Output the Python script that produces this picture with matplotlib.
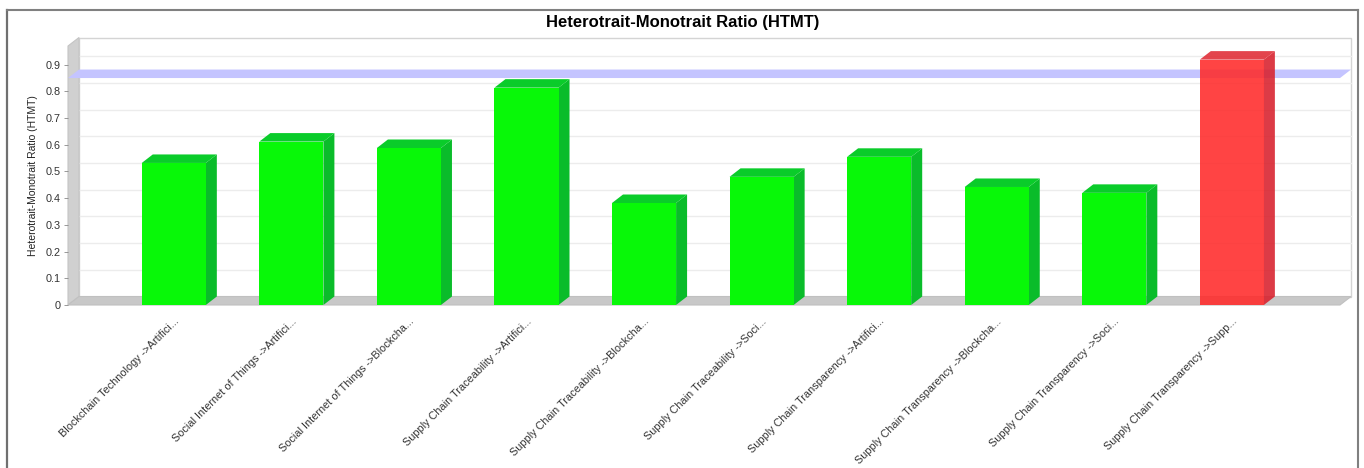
import numpy as np
import matplotlib.pyplot as plt
from matplotlib.patches import Polygon, Rectangle
from matplotlib.lines import Line2D

plt.rcParams['font.family'] = ['Liberation Sans', 'DejaVu Sans']

# Données HTMT
relations = [
    "Blockchain Technology ->Artifici...",
    "Social Internet of Things ->Artifici...",
    "Social Internet of Things ->Blockcha...",
    "Supply Chain Traceability ->Artifici...",
    "Supply Chain Traceability ->Blockcha...",
    "Supply Chain Traceability ->Soci...",
    "Supply Chain Transparency ->Artifici...",
    "Supply Chain Transparency ->Blockcha...",
    "Supply Chain Transparency ->Soci...",
    "Supply Chain Transparency ->Supp...",
]
htmt = [0.532, 0.612, 0.588, 0.814, 0.382, 0.480, 0.555, 0.442, 0.420, 0.919]
seuil = 0.85
yticks = [0, 0.1, 0.2, 0.3, 0.4, 0.5, 0.6, 0.7, 0.8, 0.9]

W, H, DPI = 1364, 468, 100
fig = plt.figure(figsize=(W / DPI, H / DPI), dpi=DPI)
fig.patch.set_facecolor("white")

# cadre extérieur
fig.add_artist(Line2D([7 / W, 7 / W], [0, 1 - 10 / H], color="#707070", lw=1.6))
fig.add_artist(Line2D([7 / W, 1358 / W], [1 - 10 / H, 1 - 10 / H], color="#808080", lw=1.5))
fig.add_artist(Line2D([1358 / W, 1358 / W], [0, 1 - 10 / H], color="#808080", lw=1.5))

left, right, bottom, top = 68, 1340, 305, 46
ax = fig.add_axes([left / W, 1 - bottom / H, (right - left) / W, (bottom - top) / H])
ax.patch.set_alpha(0)
xmin, xmax = -0.9, 9.92
ymax = 0.97
ax.set_xlim(xmin, xmax)
ax.set_ylim(0, ymax)
for s in ax.spines.values():
    s.set_visible(False)

# profondeur 3D en unités de données
dx = 11 * (xmax - xmin) / (right - left)
dy = 8.5 * ymax / (bottom - top)

# mur du fond
ax.add_patch(Rectangle((xmin + dx, dy), xmax - xmin, ymax, facecolor="white",
                       edgecolor="#d4d4d4", lw=1, clip_on=False, zorder=0))
for t in yticks[1:]:
    ax.plot([xmin + dx, xmax + dx], [t + dy, t + dy], color="#ececec", lw=1, clip_on=False, zorder=0.5)

# mur gauche et sol
ax.add_patch(Polygon([(xmin, 0), (xmin + dx, dy), (xmin + dx, ymax + dy), (xmin, ymax)],
                     closed=True, facecolor="#d0d0d0", edgecolor="#c4c4c4", lw=0.8, clip_on=False, zorder=1))
ax.add_patch(Polygon([(xmin, 0), (xmax, 0), (xmax + dx, dy), (xmin + dx, dy)],
                     closed=True, facecolor="#c8c8c8", edgecolor="#c0c0c0", lw=0.8, clip_on=False, zorder=1))

# bande du seuil
ax.add_patch(Polygon([(xmin, seuil), (xmax, seuil), (xmax + dx, seuil + dy), (xmin + dx, seuil + dy)],
                     closed=True, facecolor="#c4c4ff", edgecolor="none", clip_on=False, zorder=2))

# barres 3D
largeur = 0.545
x = np.arange(len(htmt))
for xi, v in zip(x, htmt):
    if v > seuil:
        face, cote, dessus, a = "#ff2a2a", "#d8202c", "#e02a34", 0.88
    else:
        face, cote, dessus, a = "#08f808", "#0abc2a", "#0acc2a", 1
    x0, x1 = xi - largeur / 2, xi + largeur / 2
    ax.add_patch(Polygon([(x1, 0), (x1 + dx, dy), (x1 + dx, v + dy), (x1, v)],
                         closed=True, facecolor=cote, edgecolor="none", alpha=a, zorder=3))
    ax.add_patch(Polygon([(x0, v), (x1, v), (x1 + dx, v + dy), (x0 + dx, v + dy)],
                         closed=True, facecolor=dessus, edgecolor="none", alpha=a, zorder=3))
    ax.add_patch(Rectangle((x0, 0), largeur, v, facecolor=face, edgecolor="none", alpha=a, zorder=4))

ax.set_yticks(yticks)
ax.set_yticklabels(["0"] + [f"{t:.1f}" for t in yticks[1:]], fontsize=7.8, color="#333333")
ax.tick_params(axis="y", length=3, width=0.6, color="#888888", pad=2)
ax.set_xticks(x)
ax.set_xticklabels(relations, rotation=45, ha="right", rotation_mode="anchor",
                   fontsize=7.8, color="#333333")
ax.tick_params(axis="x", length=0, pad=8)
ax.set_ylabel("Heterotrait-Monotrait Ratio (HTMT)", fontsize=7.5, color="#222222", labelpad=6)

fig.text(683 / W, 1 - 22 / H, "Heterotrait-Monotrait Ratio (HTMT)", ha="center", va="center",
         fontsize=12, fontweight="bold", color="black")

fig.savefig("out.png", dpi=DPI)
